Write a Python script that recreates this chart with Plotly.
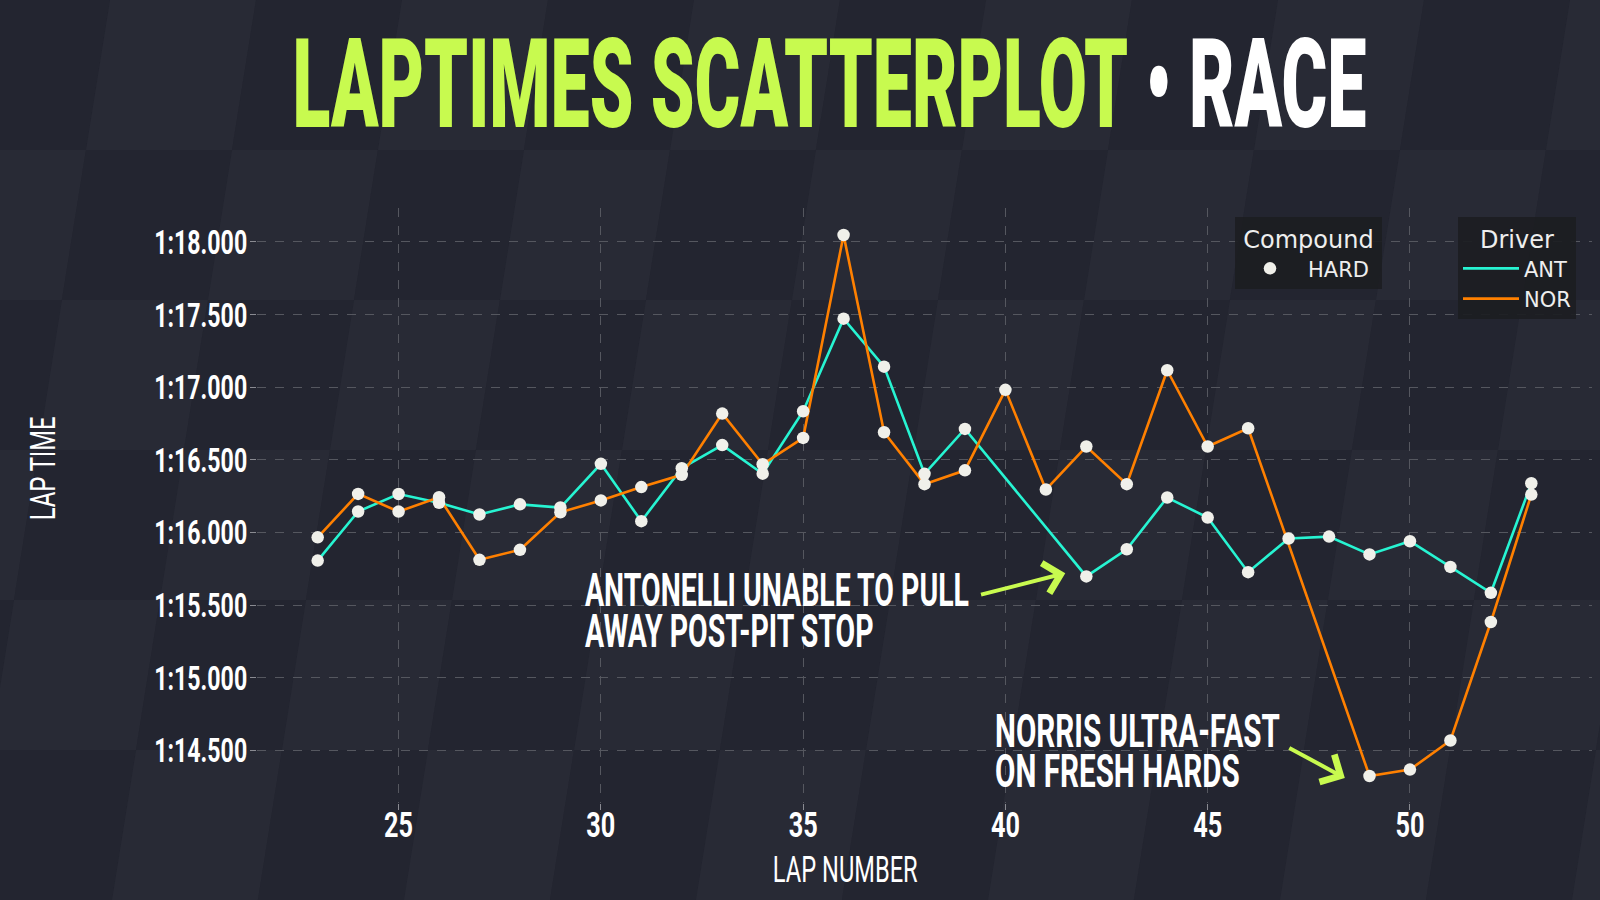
import plotly.graph_objects as go

# ---------------- data ----------------
ant_laps = [23, 24, 25, 26, 27, 28, 29, 30, 31, 32, 33, 34, 35, 36, 37, 38, 39,
            42, 43, 44, 45, 46, 47, 48, 49, 50, 51, 52, 53]
ant_times = [75.807, 76.145, 76.265, 76.205, 76.124, 76.194, 76.172, 76.473, 76.078,
             76.443, 76.602, 76.405, 76.835, 77.472, 77.142, 76.404, 76.713,
             75.698, 75.885, 76.241, 76.103, 75.727, 75.959, 75.972, 75.849,
             75.940, 75.763, 75.585, 76.339]

nor_laps = [23, 24, 25, 26, 27, 28, 29, 30, 31, 32, 33, 34, 35, 36, 37, 38, 39,
            40, 41, 42, 43, 44, 45, 46, 49, 50, 51, 52, 53]
nor_times = [75.967, 76.266, 76.144, 76.243, 75.812, 75.881, 76.139, 76.221, 76.313,
             76.397, 76.819, 76.470, 76.651, 78.048, 76.690, 76.333, 76.428,
             76.982, 76.296, 76.592, 76.333, 77.117, 76.592, 76.718,
             74.324, 74.368, 74.568, 75.384, 76.261]

drivers = ["ANT", "NOR"]
compound = "HARD"

y_tick_vals = [74.5, 75.0, 75.5, 76.0, 76.5, 77.0, 77.5, 78.0]
y_tick_text = ["1:14.500", "1:15.000", "1:15.500", "1:16.000",
               "1:16.500", "1:17.000", "1:17.500", "1:18.000"]
x_tick_vals = [25, 30, 35, 40, 45, 50]

note_ant = ["ANTONELLI UNABLE TO PULL", "AWAY POST-PIT STOP"]
note_nor = ["NORRIS ULTRA-FAST", "ON FRESH HARDS"]

# ---------------- style ----------------
W, H = 1600, 900
ML, MR, MT, MB = 257, 8, 208, 97
PW, PH = W - ML - MR, H - MT - MB

BG = "#252631"
LIME = "#c8fa4f"
TEAL = "#27f4d2"
ORANGE = "#ff8000"
DOT = "#f0f0ea"
HEAD = "Roboto"
LEG = "DejaVu Sans"


def px(xp):
    return (xp - ML) / PW


def py(yp):
    return (H - MB - yp) / PH


fig = go.Figure()

fig.add_trace(go.Scatter(x=ant_laps, y=ant_times, mode="lines", name=drivers[0],
                         line=dict(color=TEAL, width=2.6), legend="legend2"))
fig.add_trace(go.Scatter(x=nor_laps, y=nor_times, mode="lines", name=drivers[1],
                         line=dict(color=ORANGE, width=2.6), legend="legend2"))
fig.add_trace(go.Scatter(x=ant_laps, y=ant_times, mode="markers", name=compound,
                         marker=dict(color=DOT, size=12.5), legend="legend"))
fig.add_trace(go.Scatter(x=nor_laps, y=nor_times, mode="markers", name=compound,
                         marker=dict(color=DOT, size=12.5), showlegend=False, legend="legend"))

# subtle skewed checker background
shapes = []
cw, ch, skew = 146, 150, 24
for r in range(-1, 7):
    for c in range(-1, 13):
        y0 = r * ch
        y1 = y0 + ch
        xb0 = c * cw - 60 - r * skew
        xb1 = xb0 + cw
        xt0 = xb0 + skew
        xt1 = xb1 + skew
        col = "#232530" if (r + c) % 2 == 0 else "#282a35"
        path = "M {:.4f},{:.4f} L {:.4f},{:.4f} L {:.4f},{:.4f} L {:.4f},{:.4f} Z".format(
            px(xb0), py(y1), px(xb1), py(y1), px(xt1), py(y0), px(xt0), py(y0))
        shapes.append(dict(type="path", path=path, xref="paper", yref="paper",
                           fillcolor=col, line=dict(width=0), layer="below"))


def label(text, x, y, size, weight="bold", anchor="left", angle=0, color="#ffffff"):
    return dict(text=text, xref="paper", yref="paper", x=px(x), y=py(y),
                xanchor=anchor, yanchor="middle", align=anchor if anchor != "center" else "center",
                textangle=angle, showarrow=False,
                font=dict(family=HEAD, size=size, color=color, weight=weight))


annotations = [
    # 0 title
    label(f"<span style='color:{LIME}'>LAPTIMES SCATTERPLOT</span> "
          f"<span style='color:#ffffff'>• RACE</span>", 829, 84, 125, weight=900,
          anchor="center", color=LIME),
    # 1, 2 axis titles
    label("LAP TIME", 43, 469, 36, weight=400, anchor="center", angle=-90),
    label("LAP NUMBER", 845, 869, 37, weight=400, anchor="center"),
    # 3, 4 notes
    label("<br>".join(note_ant), 583, 620, 46),
    label("<br>".join(note_nor), 993, 761, 46),
    # arrows
    dict(text="", x=41.48, y=75.72, ax=39.36, ay=75.57, xref="x", yref="y",
         axref="x", ayref="y", showarrow=True, arrowhead=4, arrowsize=1.5,
         arrowwidth=4, arrowcolor=LIME),
    dict(text="", x=48.39, y=74.31, ax=46.98, ay=74.523, xref="x", yref="y",
         axref="x", ayref="y", showarrow=True, arrowhead=4, arrowsize=1.5,
         arrowwidth=4, arrowcolor=LIME),
]

legend_common = dict(bgcolor="rgba(28,29,34,0.92)", borderwidth=0,
                     font=dict(family=LEG, size=21, color="#eeeeee"),
                     xanchor="left", yanchor="top")

fig.update_layout(
    width=W, height=H,
    margin=dict(l=ML, r=MR, t=MT, b=MB),
    paper_bgcolor=BG, plot_bgcolor="rgba(0,0,0,0)",
    showlegend=True,
    shapes=shapes,
    annotations=annotations,
    legend=dict(**legend_common, x=px(1235), y=py(217), itemwidth=46,
                title=dict(text="Compound", side="top center",
                           font=dict(family=LEG, size=24, color="#eeeeee"))),
    legend2=dict(**legend_common, x=px(1458), y=py(217), itemwidth=56,
                 title=dict(text="Driver", side="top center",
                            font=dict(family=LEG, size=24, color="#eeeeee"))),
    xaxis=dict(range=[21.5, 54.5], tickvals=x_tick_vals, showgrid=True,
               gridcolor="#55575f", griddash="dash", gridwidth=1, zeroline=False,
               showline=False, ticks="outside", ticklen=6, tickcolor="#8a8b92",
               ticklabelstandoff=-16,
               tickfont=dict(family=HEAD, size=36, color="#ffffff", weight="bold")),
    yaxis=dict(range=[74.138, 78.234], tickvals=y_tick_vals, ticktext=y_tick_text,
               showgrid=True, gridcolor="#55575f", griddash="dash", gridwidth=1,
               zeroline=False, showline=False, ticks="outside", ticklen=6,
               tickcolor="#8a8b92", ticklabelstandoff=-4,
               tickfont=dict(family=HEAD, size=34, color="#ffffff", weight="bold")),
)

# condensed look: squeeze the heading texts horizontally (they stay real SVG text)
post = """
document.body.style.margin = '0';
document.body.style.overflow = 'hidden';
var gd = document.getElementById('{plot_id}');
function sq(el, sx) {
  var bb = el.getBBox();
  var anc = el.getAttribute('text-anchor') || 'start';
  var ax = anc === 'middle' ? bb.x + bb.width / 2 : (anc === 'end' ? bb.x + bb.width : bb.x);
  var t = el.getAttribute('transform') || '';
  el.setAttribute('transform', t + ' translate(' + ax + ',0) scale(' + sx + ',1) translate(' + (-ax) + ',0)');
}
function ann(i) {
  return gd.querySelector('g.annotation[data-index="' + i + '"] text.annotation-text');
}
function fitGroup(idxs, target, lineGap) {
  var first = ann(idxs[0]);
  if (!first) return;
  var s = target / first.getBBox().width;
  idxs.forEach(function (i) {
    var e = ann(i);
    if (!e) return;
    if (lineGap) {
      var lines = e.querySelectorAll('tspan.line');
      for (var k = 1; k < lines.length; k++) lines[k].setAttribute('dy', lineGap + 'px');
    }
    sq(e, s);
  });
}
fitGroup([0], 1072);
fitGroup([1], 104);
fitGroup([2], 145);
fitGroup([3], 384, 41);
fitGroup([4], 285, 40);
function fitTicks(sel, ref, target) {
  var els = Array.prototype.slice.call(gd.querySelectorAll(sel));
  var r = els.filter(function (e) { return e.textContent === ref; })[0] || els[0];
  if (!r) return;
  var s = target / r.getBBox().width;
  els.forEach(function (e) { sq(e, s); });
}
fitTicks('g.ytick text', '1:18.000', 93);
fitTicks('g.xtick text', '25', 29);

/* compound legend spacing (idempotent) */
var ITEM = { 'HARD': [17, 7] };
var BOX = { 'Compound': 12 };
function mv(el, dx) { if (el) el.style.translate = dx + 'px 0px'; }
function tidyLegends() {
  gd.querySelectorAll('text.legendtext').forEach(function (t) {
    var v = ITEM[(t.textContent || '').trim()];
    if (!v) return;
    mv(t, v[0]);
    var tr = t.parentNode;
    if (tr) tr.querySelectorAll('g.legendpoints').forEach(function (p) { mv(p, v[1]); });
  });
  gd.querySelectorAll('text.legendtitletext').forEach(function (t) {
    var d = BOX[(t.textContent || '').trim()];
    if (d === undefined) return;
    mv(t, d / 2);
    var g = t.parentNode;
    while (g && g !== gd) {
      var bg = null;
      for (var k = 0; k < g.children.length; k++) {
        var c = g.children[k];
        if (c.tagName === 'rect' && c.classList.contains('bg')) { bg = c; break; }
      }
      if (bg) {
        if (!bg.hasAttribute('data-w0')) bg.setAttribute('data-w0', bg.getAttribute('width'));
        bg.setAttribute('width', parseFloat(bg.getAttribute('data-w0')) + d);
        g.querySelectorAll('[clip-path]').forEach(function (e) { e.removeAttribute('clip-path'); });
        break;
      }
      g = g.parentNode;
    }
  });
}
tidyLegends();
[30, 100, 250, 500, 1000].forEach(function (ms) { setTimeout(tidyLegends, ms); });
"""

fig.write_html("out.html", post_script=post, config={"displayModeBar": False})
